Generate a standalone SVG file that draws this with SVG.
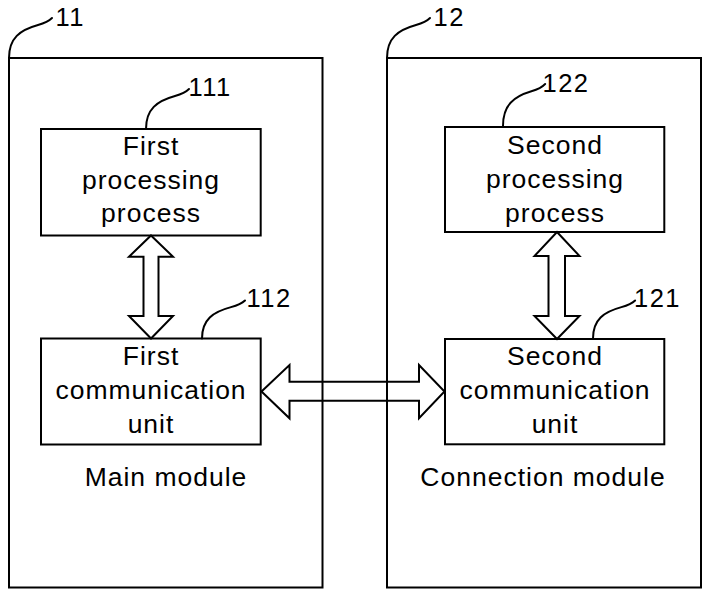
<svg xmlns="http://www.w3.org/2000/svg" width="705" height="592" viewBox="0 0 705 592">
  <style>
    .box { fill: none; stroke: #000; stroke-width: 2; }
    .arrow { fill: none; stroke: #000; stroke-width: 2; stroke-linejoin: miter; }
    .lead { fill: none; stroke: #000; stroke-width: 2; stroke-linecap: round; }
    .txt { font-family: "Liberation Sans", Arial, sans-serif; font-size: 26.5px; letter-spacing: 1px; fill: #000; text-anchor: middle; }
    .ref { font-family: "Liberation Sans", Arial, sans-serif; font-size: 25.5px; letter-spacing: 1.5px; fill: #000; }
  </style>
  <defs>
    <path id="leader" d="M0,0 C0,-20 11,-28 29,-33 C36,-35 40,-37 43,-40"/>
  </defs>
  <rect width="705" height="592" fill="#fff"/>

  <!-- double-headed block arrows -->
  <g id="connectors">
    <polygon class="arrow" points="151,235.5 173,256.7 158.5,256.7 158.5,316 173,316 151,338.5 129,316 143.5,316 143.5,256.7 129,256.7"/>
    <polygon class="arrow" points="557,232 579.5,256 565,256 565,316 579.5,316 557,339 534.5,316 548.5,316 548.5,256 534.5,256"/>
    <polygon class="arrow" points="261.5,391.5 289.5,365 289.5,381.7 419,381.7 419,365 444.5,391.5 419,418.3 419,400.7 289.5,400.7 289.5,418.3"/>
  </g>

  <!-- main module (11) -->
  <g id="main-module">
    <rect class="box" x="9" y="58" width="313.5" height="529.5"/>
    <use href="#leader" class="lead" transform="translate(9,58)"/>
    <text class="ref" x="55.5" y="26">11</text>
    <text class="txt" x="166" y="486">Main module</text>
  </g>

  <g id="first-processing">
    <rect class="box" x="41" y="129" width="219.7" height="106.5"/>
    <use href="#leader" class="lead" transform="translate(146,129)"/>
    <text class="ref" x="188.5" y="96">111</text>
    <text class="txt" x="151" y="155">First</text>
    <text class="txt" x="151" y="188.5">processing</text>
    <text class="txt" x="151" y="221.5">process</text>
  </g>

  <g id="first-communication">
    <rect class="box" x="41" y="338.5" width="219.7" height="106"/>
    <use href="#leader" class="lead" transform="translate(202,338.5) scale(1,0.95)"/>
    <text class="ref" x="246.5" y="307">112</text>
    <text class="txt" x="151" y="365">First</text>
    <text class="txt" x="151" y="399">communication</text>
    <text class="txt" x="151" y="433">unit</text>
  </g>

  <!-- connection module (12) -->
  <g id="connection-module">
    <rect class="box" x="387" y="58" width="314" height="529.5"/>
    <use href="#leader" class="lead" transform="translate(387,58)"/>
    <text class="ref" x="433.5" y="26">12</text>
    <text class="txt" x="543" y="486">Connection module</text>
  </g>

  <g id="second-processing">
    <rect class="box" x="445" y="127" width="219.3" height="105"/>
    <use href="#leader" class="lead" transform="translate(503,126) scale(0.98,1.05)"/>
    <text class="ref" x="542.5" y="92">122</text>
    <text class="txt" x="555" y="154">Second</text>
    <text class="txt" x="555" y="188">processing</text>
    <text class="txt" x="555" y="221.5">process</text>
  </g>

  <g id="second-communication">
    <rect class="box" x="445" y="339" width="219.3" height="105.3"/>
    <use href="#leader" class="lead" transform="translate(593,338.5) scale(0.98,0.95)"/>
    <text class="ref" x="634" y="307">121</text>
    <text class="txt" x="555" y="365">Second</text>
    <text class="txt" x="555" y="399">communication</text>
    <text class="txt" x="555" y="433">unit</text>
  </g>
</svg>
